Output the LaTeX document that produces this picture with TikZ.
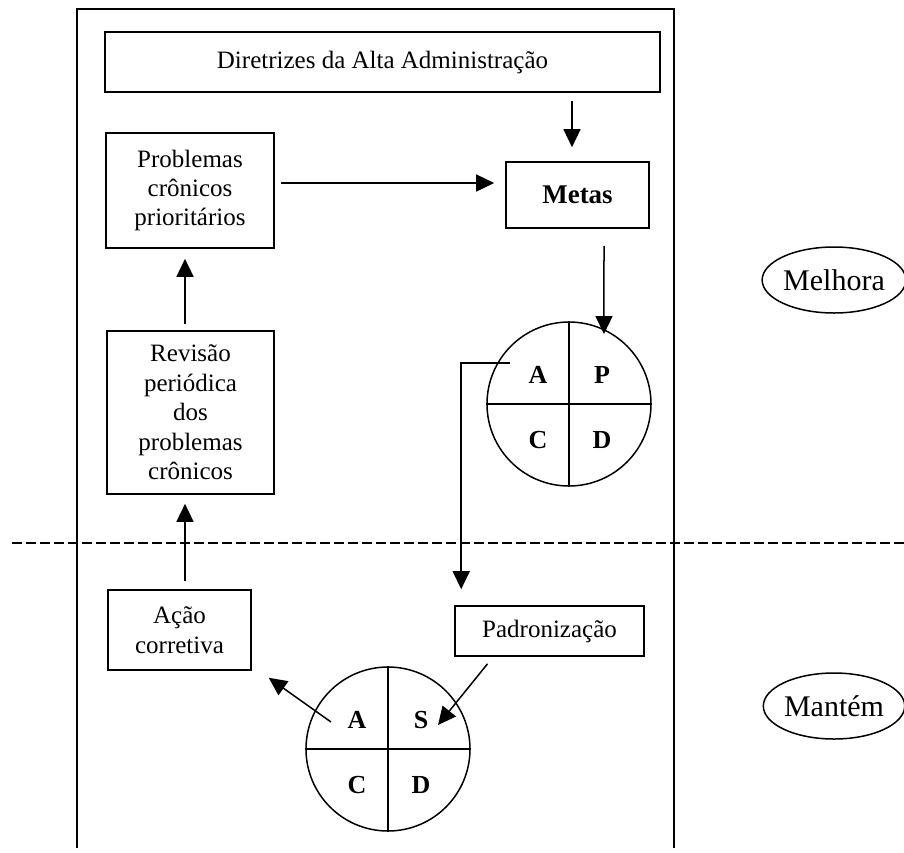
\documentclass[tikz,border=0pt]{standalone}
\usepackage{fontspec}
\setmainfont{Liberation Serif}
\usetikzlibrary{arrows.meta,shapes.geometric,calc}
\begin{document}
\begin{tikzpicture}[x=1pt,y=-1pt,
  box/.style={draw,line width=1.6pt,inner sep=0pt,align=center,font=\fontsize{25}{29}\selectfont},
  arr/.style={line width=1.5pt,-{Triangle[length=18pt,width=17pt]}},
  ln/.style={line width=1.5pt},
  frame/.style={line width=1.8pt},
  pdca/.style={draw,circle,line width=1.5pt,minimum size=164pt,inner sep=0pt},
  quad/.style={font=\bfseries\fontsize{26}{30}\selectfont,inner sep=0pt},
  oval/.style={draw,ellipse,line width=1.5pt,minimum width=136pt,minimum height=66pt,inner sep=0pt,font=\fontsize{30}{34}\selectfont}]
\useasboundingbox (0,0) rectangle (904,852);
% outer frame
\draw[frame] (77,848) -- (77,9) -- (674,9) -- (674,848);
% dashed divider
\draw[line width=1.8pt,dash pattern=on 10pt off 4pt] (12,543) -- (904,543);
% boxes
\node[box,minimum width=555pt,minimum height=60pt] (dir) at (382.5,62) {Diretrizes da Alta Administração};
\node[box,minimum width=168pt,minimum height=115pt] (prob) at (190,190.5) {Problemas\\crônicos\\prioritários};
\node[box,minimum width=143pt,minimum height=66pt,font=\bfseries\fontsize{27}{31}\selectfont] (metas) at (577.5,195) {Metas};
\node[box,minimum width=167pt,minimum height=163pt,font=\fontsize{25}{29.5}\selectfont] (rev) at (190.5,412.5) {Revisão\\periódica\\dos\\problemas\\crônicos};
\node[box,minimum width=143pt,minimum height=80pt,font=\fontsize{25}{30}\selectfont] (aco) at (179.5,630) {Ação\\corretiva};
\node[box,minimum width=189pt,minimum height=50pt] (pad) at (549.5,631) {Padronização};
% PDCA circles
\node[pdca] (upc) at (569,404) {};
\draw[ln] (upc.north) -- (upc.south);
\draw[ln] (upc.west) -- (upc.east);
\node[quad] (ua) at ([shift={(-31,-29)}]upc.center) {A};
\node[quad] (up) at ([shift={(33,-29)}]upc.center) {P};
\node[quad] (uc) at ([shift={(-31,36)}]upc.center) {C};
\node[quad] (ud) at ([shift={(33,36)}]upc.center) {D};
\node[pdca] (loc) at (388,749) {};
\draw[ln] (loc.north) -- (loc.south);
\draw[ln] (loc.west) -- (loc.east);
\node[quad] (la) at ([shift={(-31,-29)}]loc.center) {A};
\node[quad] (ls) at ([shift={(33,-29)}]loc.center) {S};
\node[quad] (lc) at ([shift={(-31,36)}]loc.center) {C};
\node[quad] (ld) at ([shift={(33,36)}]loc.center) {D};
% side labels
\node[oval] (mel) at (834,280) {Melhora};
\node[oval] (man) at (834,706) {Mantém};
% connectors
\coordinate (c1) at (572,0);
\coordinate (c2) at (0,183);
\coordinate (c3) at (604,0);
\coordinate (c4) at (185,0);
\coordinate (sA) at (510,363);
\coordinate (tS) at (438,725);
\coordinate (fA) at (331,722);
\draw[arr,shorten <=8pt,shorten >=14pt] (dir.south -| c1) -- (metas.north -| c1);
\draw[arr,shorten <=6pt,shorten >=11pt] (prob.east |- c2) -- (metas.west |- c2);
\draw[arr,shorten <=17pt,shorten >=-5pt] (metas.south -| c3) -- (upc.65);
\draw[arr,shorten >=16pt] (sA) -| ([xshift=7pt]pad.north west);
\draw[arr,shorten <=9pt] ([xshift=39pt]pad.south west) -- (tS);
\draw[arr] (fA) -- ([shift={(17,7)}]aco.south east);
\draw[arr,shorten <=8pt,shorten >=9pt] (aco.north -| c4) -- (rev.south -| c4);
\draw[arr,shorten <=6pt,shorten >=10pt] (rev.north -| c4) -- (prob.south -| c4);
\end{tikzpicture}
\end{document}
